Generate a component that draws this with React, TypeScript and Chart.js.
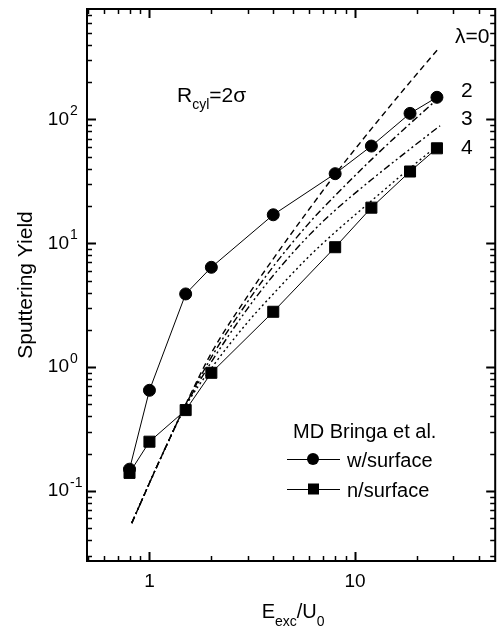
import { useEffect, useRef } from "react";
import { Chart, registerables } from "chart.js";

Chart.register(...registerables);

// MD data (Bringa et al.)
const mdX = [0.8, 1, 1.5, 2, 4, 8, 12, 18.5, 25];
const withSurfaceY = [0.15, 0.65, 3.9, 6.4, 17, 36.5, 61, 112, 151];
const noSurfaceY = [0.14, 0.25, 0.45, 0.9, 2.8, 9.3, 19.4, 38, 58.5];

// model curves
const lambda0X = [0.82, 0.9, 1, 1.2, 1.5, 2, 3, 4, 6, 8, 12, 18, 25.3];
const lambda0Y = [0.055, 0.078, 0.116, 0.226, 0.5, 1.3, 3.75, 7.5, 19, 36, 84, 190, 370];
const lambda2X = [0.82, 0.9, 1, 1.2, 1.5, 2, 3, 4, 6, 8, 12, 18, 25];
const lambda2Y = [0.055, 0.078, 0.116, 0.226, 0.495, 1.2, 3.37, 6.5, 14.7, 24.3, 47.4, 88.8, 145];
const lambda3X = [0.82, 0.9, 1, 1.2, 1.5, 2, 3, 4, 6, 8, 12, 18, 25.9];
const lambda3Y = [0.055, 0.078, 0.116, 0.226, 0.49, 1.1, 2.97, 5.5, 11.7, 18.5, 32.6, 55.7, 89];
const lambda4X = [0.82, 0.9, 1, 1.2, 1.5, 2, 3, 4, 6, 8, 12, 18, 25];
const lambda4Y = [0.055, 0.078, 0.116, 0.226, 0.485, 0.98, 2.3, 3.9, 7.9, 12.3, 22, 39, 61];

const curveLabels = ["\u03bb=0", "2", "3", "4"];
const xTickValues = [1, 10];
const xTickLabels = ["1", "10"];
const yTickExponents = [-1, 0, 1, 2];
const yTickLabels = ["-1", "0", "1", "2"];
const legendTitle = "MD Bringa et al.";
const legendLabels = ["w/surface", "n/surface"];

const X_MIN = 0.497;
const X_MAX = 48;
const Y_MIN = 0.0272;
const Y_MAX = 780;

const FONT = "'Liberation Sans', Arial, sans-serif";

const pts = (xs: number[], ys: number[]) => xs.map((x, i) => ({ x, y: ys[i] }));

const decorPlugin = {
  id: "decor",
  afterDraw(chart: any) {
    const ctx: CanvasRenderingContext2D = chart.ctx;
    const { left, right, top, bottom } = chart.chartArea;
    const xs = chart.scales.x;
    const ys = chart.scales.y;
    ctx.save();
    ctx.fillStyle = "#000";
    ctx.strokeStyle = "#000";
    ctx.setLineDash([]);

    // frame
    ctx.lineWidth = 2;
    ctx.strokeRect(left, top, right - left, bottom - top);

    // inward ticks
    for (let d = -3; d <= 3; d++) {
      for (let m = 1; m <= 9; m++) {
        const v = m * Math.pow(10, d);
        const major = m === 1;
        const len = major ? 9 : 5;
        ctx.lineWidth = major ? 2 : 1.5;
        if (v >= Y_MIN && v <= Y_MAX) {
          const py = Math.round(ys.getPixelForValue(v)) + 0.5;
          ctx.beginPath();
          ctx.moveTo(left, py);
          ctx.lineTo(left + len, py);
          ctx.moveTo(right, py);
          ctx.lineTo(right - len, py);
          ctx.stroke();
        }
        if (v >= X_MIN && v <= X_MAX) {
          const px = Math.round(xs.getPixelForValue(v)) + 0.5;
          ctx.beginPath();
          ctx.moveTo(px, bottom);
          ctx.lineTo(px, bottom - len);
          ctx.moveTo(px, top);
          ctx.lineTo(px, top + len);
          ctx.stroke();
        }
      }
    }

    // x tick labels
    ctx.font = `19px ${FONT}`;
    ctx.textAlign = "center";
    ctx.textBaseline = "middle";
    xTickValues.forEach((v, i) => {
      ctx.fillText(xTickLabels[i], xs.getPixelForValue(v), bottom + 21);
    });

    // y tick labels 10^n
    yTickExponents.forEach((e, i) => {
      const py = ys.getPixelForValue(Math.pow(10, e));
      ctx.font = `19px ${FONT}`;
      ctx.textAlign = "right";
      ctx.textBaseline = "middle";
      ctx.fillText("10", left - 18, py);
      ctx.font = `14px ${FONT}`;
      ctx.textAlign = "left";
      ctx.textBaseline = "alphabetic";
      ctx.fillText(yTickLabels[i], left - 17, py - 4);
    });

    // y title
    ctx.save();
    ctx.translate(26, (top + bottom) / 2);
    ctx.rotate(-Math.PI / 2);
    ctx.font = `21px ${FONT}`;
    ctx.textAlign = "center";
    ctx.textBaseline = "middle";
    ctx.fillText("Sputtering Yield", 0, 0);
    ctx.restore();

    // x title E_exc / U_0
    const big = `20px ${FONT}`;
    const small = `14px ${FONT}`;
    ctx.textAlign = "left";
    ctx.textBaseline = "alphabetic";
    const parts: [string, string, number][] = [
      ["E", big, 0],
      ["exc", small, 8],
      ["/U", big, 0],
      ["0", small, 8],
    ];
    let tw = 0;
    parts.forEach(([t, f]) => {
      ctx.font = f;
      tw += ctx.measureText(t).width;
    });
    let cx = (left + right) / 2 + 2 - tw / 2;
    const baseX = 618;
    parts.forEach(([t, f, dy]) => {
      ctx.font = f;
      ctx.fillText(t, cx, baseX + dy);
      cx += ctx.measureText(t).width;
    });

    // R_cyl = 2σ annotation
    let ax = 177;
    const aBase = 102;
    ctx.font = `21px ${FONT}`;
    ctx.fillText("R", ax, aBase);
    ax += ctx.measureText("R").width;
    ctx.font = small;
    ctx.fillText("cyl", ax, aBase + 7);
    ax += ctx.measureText("cyl").width;
    ctx.font = `21px ${FONT}`;
    ctx.fillText("=2\u03c3", ax, aBase);

    // curve labels
    ctx.font = `21px ${FONT}`;
    ctx.fillText(curveLabels[0], 455, 43);
    ctx.fillText(curveLabels[1], 461, 97);
    ctx.fillText(curveLabels[2], 461, 125);
    ctx.fillText(curveLabels[3], 461, 154);

    // legend
    ctx.font = `20px ${FONT}`;
    ctx.fillText(legendTitle, 293, 438);
    const rows = [459, 489];
    rows.forEach((ry, i) => {
      ctx.lineWidth = 1;
      ctx.beginPath();
      ctx.moveTo(287, ry + 0.5);
      ctx.lineTo(340, ry + 0.5);
      ctx.stroke();
      if (i === 0) {
        ctx.beginPath();
        ctx.arc(313, ry, 6, 0, Math.PI * 2);
        ctx.fill();
      } else {
        ctx.fillRect(308, ry - 5.5, 11, 11);
      }
      ctx.font = `20px ${FONT}`;
      ctx.fillText(legendLabels[i], 347, ry + 8);
    });

    ctx.restore();
  },
};

export default function App() {
  const canvasRef = useRef<HTMLCanvasElement | null>(null);

  useEffect(() => {
    if (!canvasRef.current) return;
    const common = { showLine: true, fill: false, borderColor: "#000", backgroundColor: "#000" };
    const model = { ...common, borderWidth: 1.4, pointRadius: 0, cubicInterpolationMode: "monotone" };
    const chart = new Chart(canvasRef.current, {
      type: "line",
      data: {
        datasets: [
          { ...model, label: "lambda0", data: pts(lambda0X, lambda0Y), borderDash: [6, 4] },
          { ...model, label: "lambda2", data: pts(lambda2X, lambda2Y), borderDash: [7, 3, 2, 3] },
          { ...model, label: "lambda3", data: pts(lambda3X, lambda3Y), borderDash: [7, 3, 2, 3, 2, 3] },
          { ...model, label: "lambda4", data: pts(lambda4X, lambda4Y), borderDash: [2, 3] },
          {
            ...common,
            label: legendLabels[0],
            data: pts(mdX, withSurfaceY),
            borderWidth: 1,
            pointStyle: "circle",
            pointRadius: 6,
            tension: 0,
          },
          {
            ...common,
            label: legendLabels[1],
            data: pts(mdX, noSurfaceY),
            borderWidth: 1,
            pointStyle: "rect",
            pointRadius: 7.8,
            tension: 0,
          },
        ],
      },
      options: {
        responsive: false,
        animation: false,
        layout: { padding: { left: 87, top: 9, right: 2, bottom: 72 } },
        plugins: { legend: { display: false }, tooltip: { enabled: false } },
        scales: {
          x: { type: "logarithmic", min: X_MIN, max: X_MAX, display: false },
          y: { type: "logarithmic", min: Y_MIN, max: Y_MAX, display: false },
        },
      },
      plugins: [decorPlugin],
    } as any);
    return () => chart.destroy();
  }, []);

  return (
    <div style={{ position: "absolute", left: 0, top: 0, width: 504, height: 633, background: "#fff" }}>
      <canvas ref={canvasRef} width={504} height={633} style={{ display: "block" }} />
    </div>
  );
}
